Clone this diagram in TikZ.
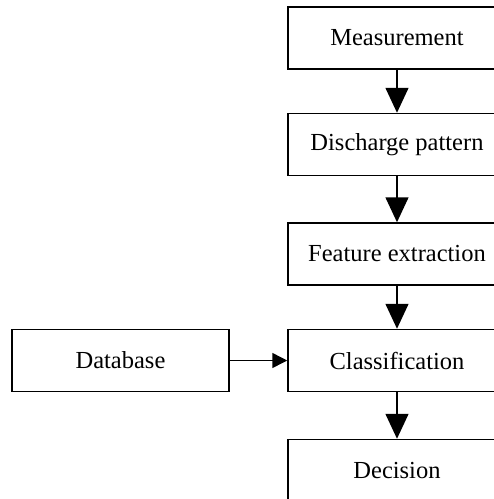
\documentclass[tikz,border=0pt]{standalone}
\usepackage{fontspec}
\setmainfont{Liberation Serif}
\usetikzlibrary{arrows.meta, positioning}

\begin{document}
\begin{tikzpicture}[x=1pt, y=-1pt, line width=1.5pt,
    block/.style={draw, rectangle, minimum width=218pt, minimum height=62pt, inner sep=0pt, font=\fontsize{24.5}{28}\selectfont},
    down/.style={-{Triangle[width=23pt,length=25pt]}},
    side/.style={-{Triangle[width=15pt,length=15pt]}}]
    \useasboundingbox (0,0) rectangle (494,499);
    \clip (0,0) rectangle (494,499);

    % blocks of the main chain
    \node[block] (meas) at (397, 38)    {Measurement};
    \node[block] (disc) at (397, 144.5) {Discharge pattern};
    \node[block] (feat) at (397, 254)   {Feature extraction};
    \node[block] (clas) at (397, 360.5) {Classification};
    \node[block] (deci) at (397, 470.5) {Decision};
    \node[block, minimum width=217pt] (data) at (120.5, 360.5) {Database};

    % connections
    \draw[down] (meas) -- (disc);
    \draw[down] (disc) -- (feat);
    \draw[down] (feat) -- (clas);
    \draw[down] (clas) -- (deci);
    \draw[side] (data) -- (clas);
\end{tikzpicture}
\end{document}
